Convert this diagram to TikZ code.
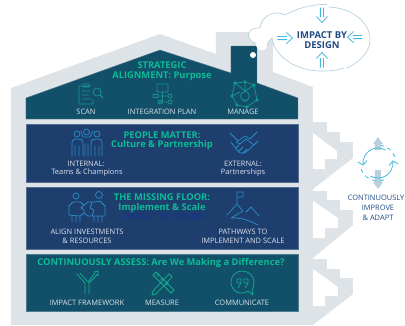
\documentclass[tikz,border=0pt]{standalone}
\usepackage{fontspec}
\setmainfont{Open Sans}
\usetikzlibrary{arrows.meta}
\definecolor{housegrey}{HTML}{DEE3E7}
\definecolor{tealband}{HTML}{124F68}
\definecolor{navyband}{HTML}{1E3E6E}
\definecolor{headgreen}{HTML}{0CBC96}
\definecolor{labelgrey}{HTML}{DCE2EA}
\definecolor{tealicon}{HTML}{1A948F}
\definecolor{blueicon}{HTML}{2A8CC8}
\definecolor{greenicon}{HTML}{12AE92}
\definecolor{skyline}{HTML}{45B8E0}
\definecolor{cloudedge}{HTML}{B5D0DF}
\definecolor{titlenavy}{HTML}{1F4A82}
\definecolor{updown}{HTML}{B9D1DD}
\tikzset{
  band/.style={draw=#1!75!white,line width=.3pt,fill=#1},
  heading/.style={text=headgreen,font=\fontsize{7}{8}\selectfont\bfseries,inner sep=0pt},
  caption/.style={text=labelgrey,font=\fontsize{5.6}{6}\selectfont,inner sep=0pt},
  sidetext/.style={text=titlenavy,font=\fontsize{5.6}{6}\selectfont,inner sep=0pt},
  bigtext/.style={text=titlenavy,font=\fontsize{7.1}{8}\selectfont\bfseries,inner sep=0pt},
  icon/.style={draw=#1,line width=.55pt,line join=round,line cap=round},
  cloudline/.style={draw=cloudedge,line width=.5pt},
  inarrow/.pic={
    \draw[skyline,line width=.6pt] (-1.6,-7.5) -- (-1.6,2) (1.6,-7.5) -- (1.6,2) (-5.5,1.5) -- (0,7.5) -- (5.5,1.5);
  }
}
\begin{document}
\begin{tikzpicture}[x=.75pt,y=-.75pt]
  \useasboundingbox (0,0) rectangle (405,326);
  % house with its stairs
  \fill[housegrey] (11,325) -- (11,88) -- (160,34) -- (216,54) -- (216,32) -- (273,32) -- (273,72) -- (313,87) -- (313,122)
    -- (327,122) -- (327,132) -- (340,132) -- (340,142) -- (353,142) -- (353,158) -- (313,189)
    -- (313,191) -- (327,191) -- (327,200) -- (340,200) -- (340,210) -- (353,210) -- (353,225) -- (313,258)
    -- (313,259) -- (327,259) -- (327,269) -- (340,269) -- (340,278) -- (353,278) -- (353,294) -- (313,325) -- cycle;
  \fill[white] (313,133) -- (337,151) -- (337,159) -- (325,159) -- (325,169) -- (313,169) -- cycle;
  \fill[white] (313,201) -- (338,218) -- (338,228) -- (325,228) -- (325,238) -- (313,238) -- cycle;
  \fill[white] (313,269) -- (338,287) -- (338,296) -- (325,296) -- (325,306) -- (313,306) -- cycle;
  % floors
  \draw[band=tealband] (26,98) -- (160,50) -- (231,73) -- (231,46) -- (257,46) -- (257,83) -- (298,98) -- (298,119) -- (26,119) -- cycle;
  \draw[band=navyband] (26,124) rectangle (298,182);
  \draw[band=navyband] (26,187) rectangle (298,249);
  \draw[band=tealband] (26,254) rectangle (298,311);
  % thought cloud
  \fill[white] (327,5) .. controls (310,4) and (296,9) .. (285,15)
    .. controls (276,10) and (262,14) .. (260,28)
    .. controls (252,27) and (245,33) .. (250,39)
    .. controls (252,43) and (255,43) .. (256,43)
    .. controls (255,50) and (265,54) .. (267,46)
    .. controls (268,42) and (269,40) .. (272,38)
    .. controls (274,55) and (295,72) .. (324,71)
    .. controls (345,71) and (370,58) .. (370,40)
    .. controls (370,22) and (352,6) .. (327,5) -- cycle;
  \draw[cloudline] (327,4.5) .. controls (310,4) and (296,9) .. (285,15)
    .. controls (276,10) and (262,14) .. (260,28)
    .. controls (252,27) and (245,33) .. (250,39)
    .. controls (252,43) and (255,43) .. (256,43);
  \draw[cloudline] (267,46) .. controls (268,42) and (269,40) .. (272,38)
    .. controls (274,55) and (295,72) .. (324,71)
    .. controls (332,71) and (338,70) .. (344,68);
  \draw[cloudline] (329,7) .. controls (352,8) and (370,22) .. (370,40)
    .. controls (370,53) and (358,63) .. (347,68);
  \fill[white] (253,55) circle (3);
  \pic at (322,15) {inarrow};
  \pic[rotate=180] at (322,60) {inarrow};
  \pic[rotate=90] at (285,38) {inarrow};
  \pic[rotate=-90] at (355,37) {inarrow};
  \node[bigtext,align=center] (impact) at (322,40) {IMPACT BY\\[-.5pt]DESIGN};
  % top floor
  \node[heading] (strategic) at (162,65) {STRATEGIC};
  \node[heading] (alignment) at (162,76) {ALIGNMENT: Purpose};
  \node[caption] (scan) at (86,112) {SCAN};
  \node[caption] (integration) at (162,112) {INTEGRATION PLAN};
  \node[caption] (manage) at (243,112) {MANAGE};
  \draw[icon=tealicon] (81,86) -- (79,86) -- (79,104) -- (93,104) -- (93,100) (91,86) -- (81,86) (83,84) rectangle (89,87)
    (82,91) -- (90,91) (82,95) -- (89,95) (82,99) -- (91,99) (97,92) circle (4) (100,95) -- (103,98);
  \draw[icon=tealicon] (157,84) rectangle (168,92) (162.5,92) -- (162.5,103) (158,96) -- (168,96) (158,102) -- (168,102)
    (153,94.5) rectangle (158,97.5) (170,96) circle (2) (170,102) circle (2) (160,102) circle (2);
  \draw[icon=tealicon] (235,83) -- (245,82) -- (254,85) -- (257,100) -- (247,107) -- (237,105) -- (232,96) -- cycle
    (235,83) -- (245,91) -- (254,85) (232,96) -- (240,92) (245,82) -- (245,91)
    (245,96) circle (4.5) (243,101) -- (247,101) (235,83) circle (1.3) (245,82) circle (1.3) (254,85) circle (1.3)
    (257,100) circle (1.3) (247,107) circle (1.3) (237,105) circle (1.3) (232,96) circle (1.3);
  % people floor
  \node[heading] (people) at (162,135) {PEOPLE MATTER:};
  \node[heading] (culture) at (162,145.5) {Culture \& Partnership};
  \node[caption] (internal) at (86,164) {INTERNAL:};
  \node[caption] (teams) at (87,173) {Teams \& Champions};
  \node[caption] (external) at (243,164) {EXTERNAL:};
  \node[caption] (partnerships) at (243,173) {Partnerships};
  \draw[icon=blueicon] (77,134) circle (3) (97,134) circle (3) (86.5,132) circle (3)
    (72,156) -- (72,143) .. controls (72,139) and (75,139) .. (77,139) .. controls (80,139) and (83,139) .. (83,143) -- (83,156)
    (91,156) -- (91,143) .. controls (91,139) and (94,139) .. (97,139) .. controls (100,139) and (102,139) .. (102,143) -- (102,156)
    (75,146) -- (75,156) (79,146) -- (79,156) (95,146) -- (95,156) (99,146) -- (99,156)
    (85,144) -- (85,156) (88,144) -- (88,156) (81,131) -- (83,137) -- (90,137) -- (93,131);
  \draw[icon=blueicon] (230,133) -- (238,141) -- (245,136) -- (250,139) -- (257,132)
    (231,142) -- (237,150) .. controls (240,154) and (243,154) .. (246,152) -- (254,145) -- (246,139) -- (240,144) -- (236,142)
    (254,145) -- (258,141) (236,148) -- (239,145) (239,151) -- (243,147) (243,153) -- (247,149);
  % missing floor
  \node[heading] (missing) at (162,197) {THE MISSING FLOOR:};
  \node[heading] (implement) at (162,208) {Implement \& Scale};
  \node[text=navyband!85!blue,font=\fontsize{6.6}{8}\selectfont\bfseries,inner sep=0pt] (hidden) at (164,216.5) {IMPACT BY DESIGN};
  \node[caption] (align) at (87,232) {ALIGN INVESTMENTS};
  \node[caption] (resources) at (87,241) {\& RESOURCES};
  \node[caption] (pathways) at (243,232) {PATHWAYS TO};
  \node[caption] (scale) at (243,241) {IMPLEMENT AND SCALE};
  \draw[icon=blueicon] (76,196) circle (3) (99,195) circle (3.5)
    (69,215) -- (69,206) -- (73,202) -- (80,202) -- (84,205) -- (88,202) -- (94,202) -- (100,201) -- (105,206) -- (105,216) -- (96,216)
    (69,215) -- (80,216) -- (84,213) -- (88,216) -- (96,216) (84,205) -- (81,208) -- (84,210) -- (84,213) (92,202) -- (90,208) -- (94,210) -- (92,216)
    (72,216) -- (72,222) (76,216) -- (76,222) (80,216) -- (80,222) (94,216) -- (94,222) (98,216) -- (98,222) (102,216) -- (102,222);
  \draw[icon=blueicon] (237,204) -- (237,192) -- (243,192) -- (243,197) -- (237,197)
    (227,215) -- (237,204) -- (243,211) -- (231,218) .. controls (240,218) and (244,218) .. (258,225)
    (246,212) -- (251,207) -- (259,216);
  % assess floor
  \node[heading] (assess) at (161,263) {CONTINUOUSLY ASSESS: Are We Making a Difference?};
  \node[caption] (framework) at (87,303) {IMPACT FRAMEWORK};
  \node[caption] (measure) at (162,303) {MEASURE};
  \node[caption] (communicate) at (242,303) {COMMUNICATE};
  \draw[icon=greenicon] (77,274) -- (85,283) -- (85,294) (80,273) -- (88,282) (89,294) -- (89,283) -- (98,274)
    (88,282) -- (95,273) (94,272) -- (98,271) -- (98,276);
  \draw[icon=greenicon] (153,275) -- (156,272) -- (174,290) -- (171,293) -- cycle (153,291) -- (169,274) -- (172,277) -- (156,294) -- (152,295) -- cycle
    (157,276) -- (159,274) (161,280) -- (163,278) (166,285) -- (168,283);
  \draw[icon=greenicon] (248,291) .. controls (238,297) and (231,289) .. (231,282) .. controls (231,276) and (236,271) .. (242,271)
    .. controls (249,271) and (254,276) .. (254,282) .. controls (254,286) and (253,288) .. (252,290) -- (253,295) -- cycle
    (237,279) rectangle (241,283) (244,279) rectangle (248,283) (241,283) -- (238,288) (248,283) -- (245,288);
  % improve and adapt
  \fill[updown] (378,137) -- (383,144) -- (381,144) -- (381,150) -- (375,150) -- (375,144) -- (373,144) -- cycle;
  \fill[updown] (378,189) -- (383,182) -- (381,182) -- (381,170) -- (375,170) -- (375,182) -- (373,182) -- cycle;
  \draw[skyline,line width=.6pt,-{Straight Barb[length=3pt,width=7pt]}] (378,163) ++(300:15) arc[start angle=300,end angle=170,radius=15];
  \draw[skyline,line width=.6pt,-{Straight Barb[length=3pt,width=7pt]}] (378,163) ++(120:15) arc[start angle=120,end angle=-10,radius=15];
  \draw[skyline,line width=.6pt,dashed] (378,163) ++(160:18) arc[start angle=160,end angle=60,radius=18];
  \draw[skyline,line width=.6pt,dashed] (378,163) ++(340:18) arc[start angle=340,end angle=280,radius=18];
  \node[sidetext] (continuously) at (376,198) {CONTINUOUSLY};
  \node[sidetext] (improve) at (378,208) {IMPROVE};
  \node[sidetext] (adapt) at (378,218) {\& ADAPT};
\end{tikzpicture}
\end{document}
